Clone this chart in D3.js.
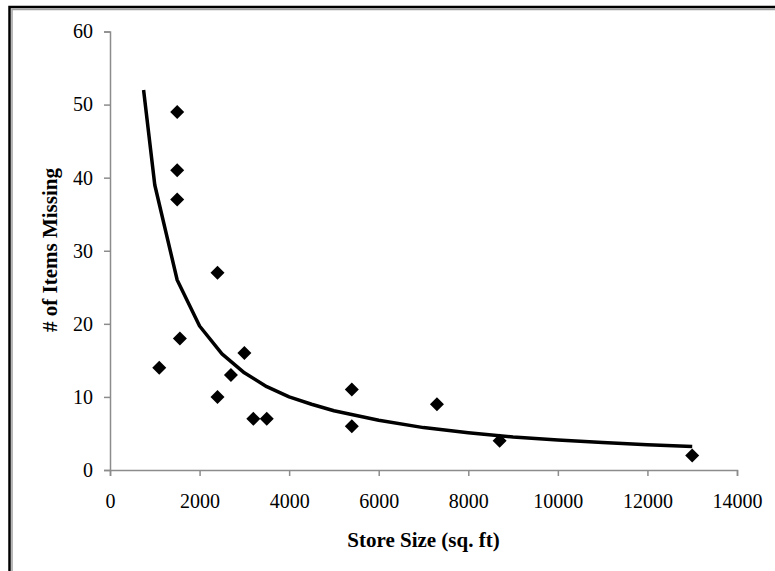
<!DOCTYPE html>
<html>
<head>
<meta charset="utf-8">
<script src="https://cdn.jsdelivr.net/npm/d3@7"></script>
<style>
  body { margin: 0; background: #fff; }
</style>
</head>
<body>
<div id="chart"></div>
<script>
(function() {
  // store size (sq. ft) and number of items missing
  var storeSize = [1500, 1500, 1500, 2400, 1560, 1100, 3000, 2700, 2400, 3200, 3500, 5400, 5400, 7300, 8700, 13000];
  var itemsMissing = [49, 41, 37, 27, 18, 14, 16, 13, 10, 7, 7, 11, 6, 9, 4, 2];

  // trendline
  var trendX = [750, 1000, 1500, 2000, 2500, 3000, 3500, 4000, 4500, 5000, 6000, 7000, 8000, 9000, 10000, 11000, 12000, 13000];
  var trendY = [52, 39, 26, 19.7, 15.9, 13.3, 11.4, 10, 9, 8.1, 6.8, 5.8, 5.1, 4.5, 4.1, 3.75, 3.45, 3.2];

  var xTicks = [0, 2000, 4000, 6000, 8000, 10000, 12000, 14000];
  var yTicks = [0, 10, 20, 30, 40, 50, 60];

  var serif = '"Liberation Serif", "Times New Roman", serif';

  var margin = { top: 31.5, left: 110, right: 38, bottom: 101 },
      width = 775 - margin.left - margin.right,
      height = 571 - margin.top - margin.bottom;

  var root = d3.select("#chart")
      .append("svg")
      .attr("width", 775)
      .attr("height", 571);

  // frame round the chart (runs off the right and bottom edges)
  root.append("rect")
    .attr("x", 12).attr("y", 9.5)
    .attr("width", 800).attr("height", 600)
    .attr("fill", "none")
    .attr("stroke", "#a0a0a0")
    .attr("stroke-width", 1.5);
  root.append("rect")
    .attr("x", 9.5).attr("y", 7)
    .attr("width", 800).attr("height", 600)
    .attr("fill", "none")
    .attr("stroke", "#000")
    .attr("stroke-width", 2.5);

  var svg = root.append("g")
      .attr("transform", "translate(" + margin.left + "," + margin.top + ")");

  var xPositionScale = d3.scaleLinear()
    .domain([0, 14000])
    .range([0, width]);

  var yPositionScale = d3.scaleLinear()
    .domain([0, 60])
    .range([height, 0]);

  var xAxis = d3.axisBottom(xPositionScale)
    .tickValues(xTicks)
    .tickFormat(d3.format("d"))
    .tickSize(6)
    .tickSizeOuter(6)
    .tickPadding(18);
  var gx = svg.append("g")
    .attr("class", "axis x-axis")
    .attr("transform", "translate(0," + height + ")")
    .call(xAxis);

  var yAxis = d3.axisLeft(yPositionScale)
    .tickValues(yTicks)
    .tickSize(6)
    .tickSizeOuter(6)
    .tickPadding(11);
  var gy = svg.append("g")
    .attr("class", "axis y-axis")
    .call(yAxis);

  [gx, gy].forEach(function(g) {
    g.selectAll("path, line").attr("stroke", "#8c8c8c").attr("stroke-width", 1.5);
    g.selectAll("text")
      .attr("fill", "#000")
      .style("font-family", serif)
      .style("font-size", "20px");
  });

  var trend = trendX.map(function(x, i) { return [x, trendY[i]]; });
  var line = d3.line()
    .x(function(d) { return xPositionScale(d[0]); })
    .y(function(d) { return yPositionScale(d[1]); });

  svg.append("path")
    .datum(trend)
    .attr("d", line)
    .attr("fill", "none")
    .attr("stroke", "#000")
    .attr("stroke-width", 3.5)
    .attr("stroke-linejoin", "round");

  var points = storeSize.map(function(x, i) { return { size: x, missing: itemsMissing[i] }; });
  svg.selectAll(".pt")
    .data(points)
    .enter().append("path")
    .attr("class", "pt")
    .attr("d", d3.symbol().type(d3.symbolSquare).size(98))
    .attr("transform", function(d) {
      return "translate(" + xPositionScale(d.size) + "," + yPositionScale(d.missing) + ") rotate(45)";
    })
    .attr("fill", "#000");

  svg.append("text")
    .attr("x", width / 2)
    .attr("y", 547 - margin.top)
    .attr("text-anchor", "middle")
    .style("font-family", serif)
    .style("font-size", "21px")
    .style("font-weight", "bold")
    .text("Store Size (sq. ft)");

  svg.append("text")
    .attr("transform", "translate(-53," + (250 - margin.top) + ") rotate(-90)")
    .attr("text-anchor", "middle")
    .style("font-family", serif)
    .style("font-size", "21px")
    .style("font-weight", "bold")
    .text("# of Items Missing");
})()
</script>
</body>
</html>
